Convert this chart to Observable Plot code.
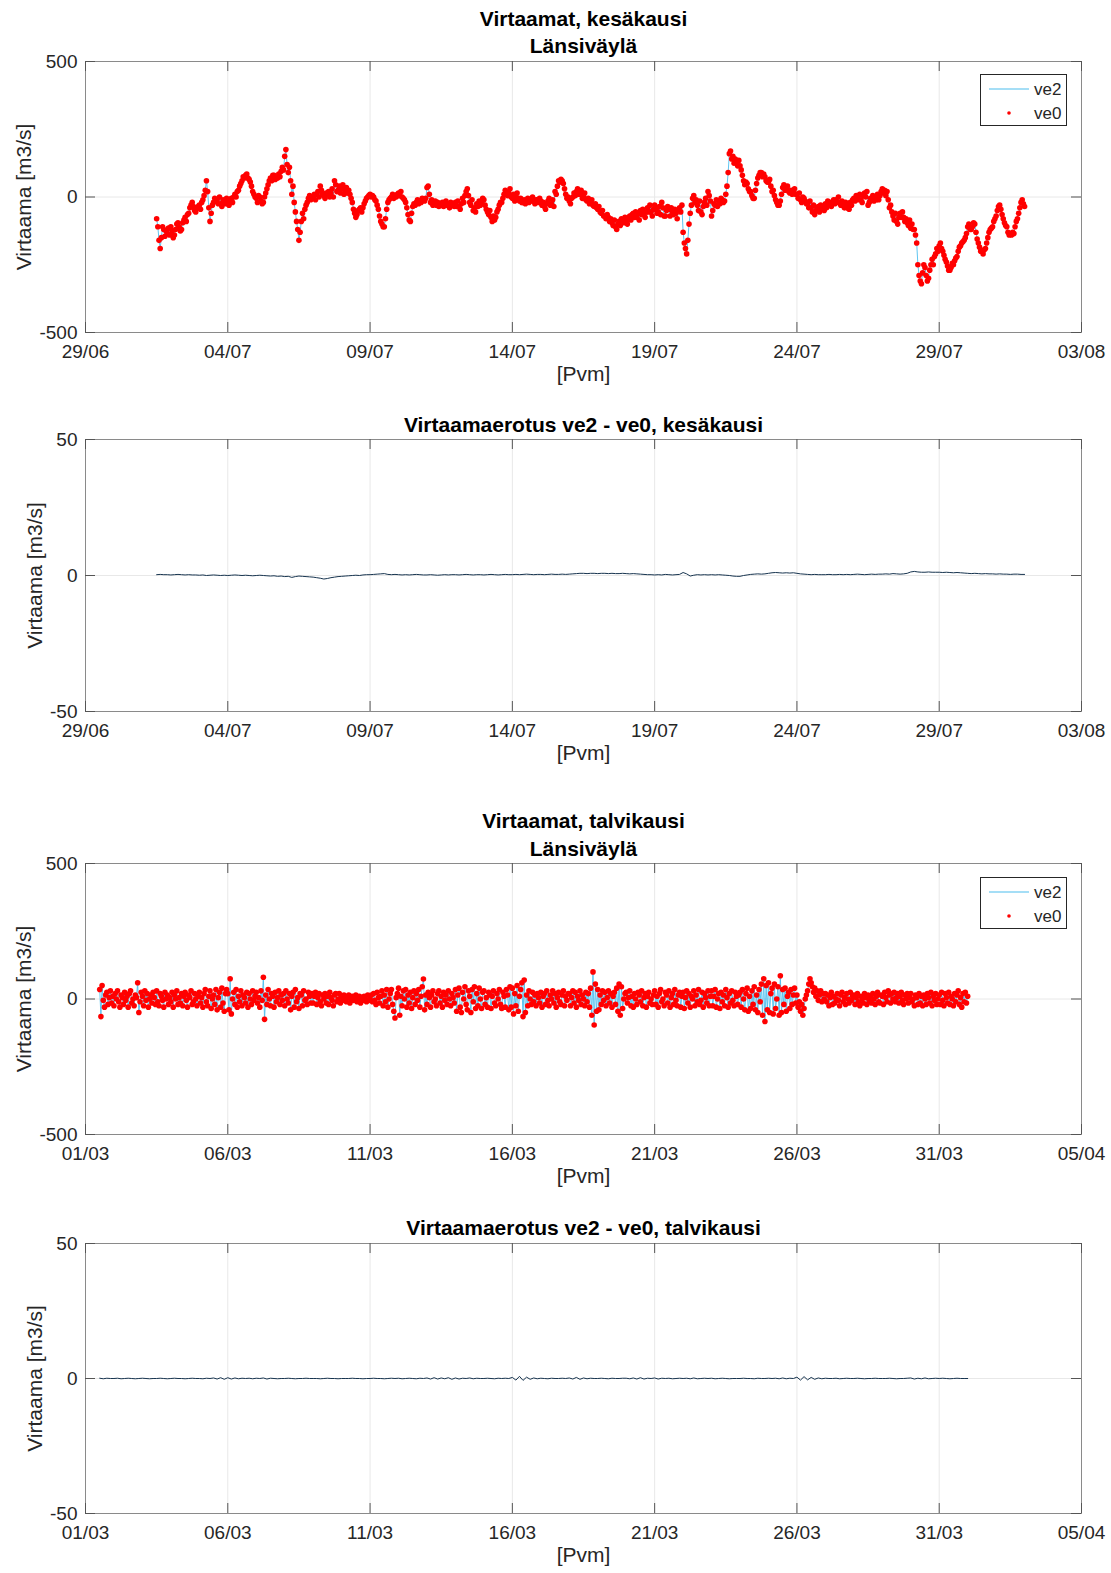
<!DOCTYPE html>
<html>
<head>
<meta charset="utf-8">
<script src="https://cdn.jsdelivr.net/npm/d3@7"></script>
<script src="https://cdn.jsdelivr.net/npm/@observablehq/plot@0.6"></script>
<style>
  body { margin: 0; background: #fff; }
  #page { position: relative; width: 1111px; height: 1573px; font-family: "Liberation Sans", Arial, Helvetica, sans-serif; }
  .panel { position: absolute; left: 0; }
  .legend { position: absolute; left: 980px; width: 85px; height: 50px; border: 1px solid #262626; background: #fff; }
  .legend svg { display: block; }
</style>
</head>
<body>
<div id="page"></div>
<script>
// ---- Axis ticks ----
const summerTicks = ["2019-06-29", "2019-07-04", "2019-07-09", "2019-07-14", "2019-07-19", "2019-07-24", "2019-07-29", "2019-08-03"];
const winterTicks = ["2019-03-01", "2019-03-06", "2019-03-11", "2019-03-16", "2019-03-21", "2019-03-26", "2019-03-31", "2019-04-05"];
const flowTicks = [-500, 0, 500];
const diffTicks = [-50, 0, 50];

// ---- Sampling: flows hourly, differences every 3 hours ----
const summerStart = "2019-07-01T12:00:00Z";
const winterStart = "2019-03-01T12:00:00Z";
const flowStepHours = 1;
const diffStepHours = 3;

// ---- Summer: ve0 flow [m3/s], hourly, one row per day ----
const summerVe0 = [
  -80, -110, -160, -190, -150, -110, -120, -145, -125, -135, -115, -140,
  -110, -125, -150, -140, -120, -100, -95, -110, -125, -120, -95, -85, -75, -90, -65, -60, -40, -30, -20, -35, -50, -55, -40, -35,
  -30, -45, -20, -10, 5, 25, 60, 20, -40, -90, -60, -30, -20, -5, -15, -10, -25, 0, -25, -35, -10, -15, -25, -5,
  -20, -30, -10, -5, -20, 0, 10, 0, 20, 25, 40, 50, 60, 75, 70, 80, 85, 70, 65, 55, 40, 20, 10, 0,
  -5, -20, 5, 0, -15, -25, -20, 0, 15, 30, 45, 60, 70, 60, 80, 80, 65, 70, 70, 85, 75, 95, 110, 100,
  150, 175, 120, 90, 110, 60, 10, 40, -20, -55, -90, -120, -160, -130, -90, -60, -80, -45, -30, -20, -5, 5, -10, 0,
  -5, 10, -10, 10, 20, 0, 40, 25, 10, 5, -5, 15, 10, 20, 0, 15, 30, 0, 60, 45, 20, 25, 40, 15,
  30, 45, 10, 20, 35, 15, 25, 10, -5, -20, -45, -60, -75, -65, -50, -45, -40, -55, -40, -25, -15, -5, 0, 5,
  10, 0, 5, 0, -10, -15, -30, -45, -70, -90, -100, -110, -110, -80, -45, -20, -10, -5, 0, 10, -5, 5, 0, 10,
  15, 5, 20, 0, -5, -10, -20, -40, -65, -85, -90, -60, -35, -25, -30, -20, -10, -25, -15, -20, -5, -10, -15, -5,
  35, 40, 10, -20, -10, -30, -25, -15, -30, -20, -35, -25, -30, -20, -35, -25, -15, -30, -30, -40, -20, -30, -25, -35,
  -20, -35, -15, -35, -45, -25, -5, -20, 5, 20, 30, 5, -20, -30, -10, -50, -40, -55, -25, -35, -15, -30, -20, -5,
  -10, -30, -45, -55, -65, -50, -75, -90, -70, -85, -75, -55, -45, -30, -20, -20, -5, 10, 25, 15, 5, 15, 30, 0,
  -5, 10, -15, 0, 15, -5, -15, -5, -20, -20, -10, -25, -15, -5, -20, -10, -15, 0, -15, -25, -10, -10, -20, -5,
  -15, -30, -20, -35, -45, -25, -15, -5, -30, -25, -10, -35, 20, 10, 40, 60, 55, 65, 60, 50, 30, 10, -5, 0,
  -15, -25, -5, 0, 15, 5, 20, 30, 10, 10, 25, -5, 5, 15, -10, -15, -5, -25, -20, -10, -30, -35, -25, -40,
  -45, -35, -55, -60, -50, -70, -70, -80, -65, -75, -90, -80, -95, -105, -85, -110, -120, -100, -90, -105, -80, -85, -95, -75,
  -90, -100, -80, -70, -85, -65, -60, -75, -55, -75, -60, -85, -50, -65, -45, -65, -75, -55, -40, -55, -30, -55, -70, -45,
  -30, -45, -60, -55, -35, -65, -20, -40, -70, -70, -50, -35, -45, -70, -40, -55, -65, -45, -60, -80, -50, -40, -55, -30,
  -130, -170, -190, -210, -160, -100, -60, -30, -5, 5, -20, -10, -30, -50, -15, -55, -65, -35, -20, -5, -30, 20, 5, -15,
  -70, -50, -25, -30, -10, -35, -15, -25, -5, -10, -20, -15, 10, 40, 90, 160, 170, 140, 150, 125, 140, 130, 115, 135,
  115, 100, 80, 60, 45, 55, 50, 30, 20, 20, 5, -5, -5, 25, 50, 70, 80, 90, 90, 75, 85, 75, 60, 55,
  55, 65, 40, 20, 25, 5, -10, -20, -30, -30, -15, 10, 35, 45, 25, 35, 40, 20, 15, 25, 10, 20, 30, 10,
  10, -5, 15, -10, -20, 0, -5, -15, -25, -25, -40, -15, -40, -55, -30, -65, -50, -40, -35, -55, -30, -45, -35, -50,
  -25, -40, -15, -30, -20, -35, -20, -10, -25, -10, -20, 0, -20, -30, -15, -30, -40, -20, -40, -30, -45, -20, -30, -10,
  -5, -15, 5, 0, -10, 10, -10, -20, 5, 15, 0, 20, -30, -20, -5, -5, 5, -15, 0, -10, 10, -10, 5, 20,
  30, 15, 25, 5, 20, -10, -40, -30, -55, -70, -85, -60, -90, -100, -75, -60, -75, -55, -75, -90, -80, -95, -105, -85,
  -115, -100, -120, -120, -140, -170, -250, -290, -310, -320, -280, -250, -260, -290, -310, -300, -270, -250, -230, -250, -220, -210, -190, -200,
  -180, -170, -190, -200, -215, -230, -240, -255, -270, -270, -260, -245, -250, -235, -225, -220, -200, -185, -180, -170, -165, -160, -150, -135,
  -110, -100, -120, -120, -110, -95, -100, -130, -155, -170, -185, -200, -200, -210, -195, -190, -170, -150, -130, -120, -115, -110, -90, -80,
  -70, -50, -35, -30, -45, -65, -80, -95, -105, -110, -130, -140, -135, -140, -130, -135, -110, -90, -80, -60, -40, -20, -10, -25,
  -35
];

// ---- Summer: difference ve2 - ve0 [m3/s], every 3 hours ----
const summerDiff = [
  0.3, 0.4, 0.3, 0.3,
  0.2, 0.3, 0.4, 0.3, 0.2, 0.3, 0.2, 0.2,
  0.1, 0.2, 0.0, 0.1, 0.2, 0.1, 0.0, 0.1,
  0.0, 0.1, 0.2, 0.1, 0.0, 0.1, 0.0, -0.1,
  0.0, 0.1, 0.0, -0.1, -0.2, -0.1, -0.3, -0.2,
  -0.4, -0.3, -0.7, -0.4, -0.2, -0.3, -0.4, -0.5,
  -0.6, -0.8, -1.0, -1.3, -1.1, -0.8, -0.6, -0.4,
  -0.3, -0.2, -0.1, 0.0, 0.1, 0.0, 0.2, 0.3,
  0.3, 0.4, 0.5, 0.6, 0.7, 0.4, 0.3, 0.4,
  0.3, 0.2, 0.3, 0.2, 0.3, 0.4, 0.3, 0.2,
  0.2, 0.3, 0.2, 0.1, 0.2, 0.3, 0.2, 0.3,
  0.3, 0.2, 0.3, 0.4, 0.3, 0.2, 0.3, 0.3,
  0.2, 0.3, 0.4, 0.3, 0.2, 0.3, 0.4, 0.3,
  0.3, 0.4, 0.3, 0.4, 0.5, 0.4, 0.3, 0.4,
  0.4, 0.3, 0.4, 0.5, 0.4, 0.4, 0.5, 0.4,
  0.5, 0.6, 0.7, 0.8, 0.8, 0.7, 0.8, 0.8,
  0.7, 0.8, 0.8, 0.7, 0.8, 0.7, 0.7, 0.8,
  0.7, 0.6, 0.7, 0.6, 0.5, 0.4, 0.3, 0.3,
  0.2, 0.3, 0.2, 0.4, 0.3, 0.2, 0.3, 0.4,
  1.1, 0.6, -0.2, 0.1, 0.3, 0.2, 0.3, 0.2,
  0.3, 0.2, 0.3, 0.2, 0.1, 0.0, -0.2, -0.3,
  -0.3, 0.0, 0.2, 0.4, 0.5, 0.6, 0.5, 0.6,
  0.8, 1.0, 1.1, 1.0, 0.9, 1.0, 0.9, 1.0,
  0.8, 0.6, 0.5, 0.4, 0.3, 0.4, 0.3, 0.3,
  0.3, 0.4, 0.3, 0.3, 0.4, 0.3, 0.4, 0.3,
  0.4, 0.5, 0.4, 0.3, 0.4, 0.5, 0.4, 0.5,
  0.5, 0.6, 0.5, 0.7, 0.6, 0.5, 0.6, 0.8,
  1.3, 1.5, 1.3, 1.2, 1.2, 1.3, 1.2, 1.2,
  1.2, 1.1, 1.2, 1.1, 1.0, 1.1, 1.0, 0.9,
  0.8, 0.7, 0.8, 0.7, 0.6, 0.7, 0.6, 0.6,
  0.5, 0.6, 0.5, 0.5, 0.4, 0.5, 0.5, 0.4,
  0.4
];

// ---- Winter: ve0 flow [m3/s], hourly, one row per day ----
const winterVe0 = [
  35, -65, 50, -5, -30, 15, 25, -20, 5, 30, -15, 10,
  -25, 20, 0, 30, -10, -30, 15, 5, -20, 25, -5, 10, -30, 20, 30, -15, 0, -25, 15, 5, 60, -50, -10, 25,
  10, -25, 30, -5, 20, -30, 0, 15, -15, 25, 5, -20, 30, -10, -25, 20, 10, -5, -30, 25, 0, 15, -20, 5,
  -10, 25, -30, 15, 0, 30, -20, 5, -15, 20, -25, 10, 25, -5, -30, 15, 5, 30, -20, -10, 20, 0, -25, 10,
  25, -15, 5, -30, 20, 35, -10, -25, 10, 30, -35, 0, 15, -20, 35, -40, 5, 25, -30, 40, -15, -45, 20, 35,
  20, -40, 75, -55, 0, 25, -20, 35, -30, 10, -10, 30, -25, 15, 5, -15, 25, -30, 20, 0, -20, 30, -5, 10,
  25, -15, 5, -30, 30, -5, 80, -75, 15, -20, 35, 0, -25, 20, 10, -30, 25, -10, 5, 30, -20, 15, -5, 20,
  -25, 30, 0, -15, 20, -40, 10, 25, -30, 35, -10, 5, -35, 20, 15, -25, 30, -5, 0, -20, 25, 10, -15, 20,
  -15, 10, 25, -20, 5, 20, -10, -25, 15, 0, 20, -15, 10, -20, 25, 5, -5, -25, 15, 20, -10, 0, 20, -15,
  10, -5, 15, 0, -10, 5, 15, -15, 0, 10, -5, 5, 15, -10, 0, 10, -15, 5, -5, 10, 0, -10, 15, -5,
  0, 15, -10, 20, -5, -20, 25, 5, -15, 10, 30, -25, 15, -10, 35, -30, 0, 20, 35, -20, -45, -70, 5, 20,
  40, -60, 10, -25, 30, 0, 35, -30, 15, -15, 25, -35, 5, 30, -20, 20, -5, 35, -30, 10, 45, 74, -40, 15,
  -20, 25, 5, -30, 15, 30, -10, 0, -25, 20, 30, -15, 10, -30, 25, -5, 15, -20, 30, 0, -25, 20, 5, -15,
  35, -45, 15, 40, -30, -50, 25, 0, 45, -20, -40, 30, 10, -50, 35, -10, 45, -35, 20, -25, 40, 0, -35, 25,
  30, -20, 5, -30, 25, 15, -35, 10, 30, -15, -25, 20, 0, 35, -20, -35, 25, 10, -30, 35, 15, -40, 45, -30,
  40, -55, 20, -25, 50, -45, 10, 35, 60, -65, 70, -50, 15, -25, 30, 0, -20, 25, -10, 15, -25, 20, 5, -15,
  25, -30, 10, 20, -20, 30, -5, -25, 15, 0, 30, -15, 20, -30, 5, 25, -10, -20, 15, 30, -25, 10, -5, 20,
  20, -25, 5, 30, -15, 25, -30, 10, -5, 30, -20, 15, 0, -25, 25, -10, 20, -30, 40, -60, 100, -96, 55, -45,
  35, -40, 15, -20, 30, -5, 25, -25, 5, 30, -15, 20, -30, 10, 25, -20, 40, -45, 55, -60, 45, -35, 0, 20,
  25, -15, 5, 30, -25, 10, -30, 20, 0, -20, 25, 15, -10, 30, -25, 5, 20, -30, 10, 25, -15, 0, -20, 15,
  30, -20, 10, -30, 20, 35, -10, 0, -25, 25, 15, -15, 30, -30, 5, 20, -20, 35, -5, -25, 15, 25, -30, 10,
  25, -35, 5, 30, -15, 20, -30, 10, 0, 30, -25, 15, -10, 35, -20, -5, 25, -30, 20, 5, -15, 30, -25, 10,
  30, -25, 10, 35, -30, 0, 20, -35, 25, -10, 15, -25, 35, 5, -30, 20, -15, 30, -5, -25, 25, 10, -20, 15,
  25, -30, 35, 0, -40, 20, 40, -45, 10, -35, 30, -20, 45, -40, 15, -50, 35, -10, 55, -60, 75, -83, 50, -40,
  60, -50, 20, 40, -55, 55, -35, 0, 45, -60, 86, -50, 35, -20, 40, -45, 10, 25, -35, 35, -20, 15, 40, -15,
  15, -30, -10, -45, -20, -60, -35, 0, 15, 30, 55, 75, 60, 45, 25, 40, 10, 30, -5, 15, 30, -10, 20, 0,
  20, -10, 15, -25, 5, 25, -20, 10, -15, 0, 20, -5, -25, 15, 25, -10, 5, -20, 20, 0, -15, 25, -5, 10,
  15, -20, 5, 20, -10, -25, 10, 0, -15, 20, 5, -20, 15, -5, 10, -15, 20, 0, -20, 10, 25, -10, -15, 15,
  10, -20, 25, 5, -10, 30, 15, -15, 20, 0, 25, -10, 5, 20, -15, 10, 25, -5, -20, 15, 0, 20, -15, 5,
  20, -10, 0, -25, 15, 5, -20, 20, -15, 10, -25, 15, 0, -20, 20, 5, -15, 25, -25, 10, -5, 20, -20, 0,
  15, -20, 25, -5, -25, 20, 5, -15, 25, -20, 10, 0, -25, 20, -10, 15, 30, -20, 5, -30, 20, -10, 25, -15,
  10
];

// ---- Winter: difference ve2 - ve0 [m3/s], every 3 hours ----
const winterDiff = [
  0.1, -0.1, 0.1, 0.0,
  0.0, 0.1, -0.1, 0.0, 0.1, 0.0, -0.1, 0.0,
  0.1, 0.0, -0.1, 0.0, 0.0, 0.1, 0.0, -0.1,
  0.0, 0.1, 0.0, 0.0, -0.1, 0.0, 0.1, 0.0,
  0.0, -0.1, 0.1, 0.0, 0.2, -0.2, 0.3, -0.3,
  0.3, -0.2, 0.2, -0.1, 0.1, 0.0, 0.1, -0.1,
  0.1, 0.0, 0.2, -0.2, 0.1, 0.0, -0.1, 0.0,
  0.0, 0.1, 0.0, -0.1, 0.0, 0.0, 0.1, 0.0,
  0.0, 0.0, -0.1, 0.0, 0.1, 0.0, 0.0, -0.1,
  0.0, 0.0, 0.0, 0.1, 0.0, 0.0, -0.1, 0.0,
  0.0, 0.1, 0.0, 0.0, -0.1, 0.0, 0.1, 0.0,
  0.1, -0.1, 0.0, 0.1, 0.0, -0.1, 0.1, 0.0,
  0.2, -0.2, 0.3, -0.2, 0.2, -0.1, 0.3, -0.3,
  0.2, -0.2, 0.1, 0.0, 0.2, -0.1, 0.1, 0.0,
  0.0, 0.1, 0.0, -0.1, 0.1, 0.0, 0.1, 0.0,
  0.4, -0.6, 0.8, -0.7, 0.5, -0.3, 0.2, -0.1,
  0.1, 0.0, -0.1, 0.1, 0.0, 0.0, 0.1, 0.0,
  0.2, -0.2, 0.4, -0.3, 0.2, -0.1, 0.1, 0.0,
  0.0, 0.1, 0.0, -0.1, 0.1, 0.0, 0.0, 0.1,
  0.1, -0.1, 0.2, -0.2, 0.3, -0.2, 0.1, 0.0,
  0.2, -0.2, 0.1, 0.0, 0.1, -0.1, 0.0, 0.1,
  0.0, 0.1, -0.1, 0.2, -0.1, 0.0, 0.1, 0.0,
  0.1, -0.1, 0.0, 0.1, 0.0, -0.1, 0.0, 0.0,
  0.0, 0.1, 0.0, 0.0, -0.1, 0.1, 0.0, 0.0,
  0.1, 0.0, 0.1, -0.1, 0.2, -0.1, 0.1, 0.0,
  0.5, -0.6, 0.7, -0.5, 0.4, -0.3, 0.2, -0.1,
  0.1, 0.0, 0.0, 0.1, -0.1, 0.0, 0.1, 0.0,
  0.0, 0.1, 0.0, -0.1, 0.0, 0.0, 0.1, 0.0,
  0.0, 0.0, 0.1, 0.0, -0.1, 0.0, 0.0, 0.1,
  0.2, -0.2, 0.1, -0.1, 0.2, -0.1, 0.0, 0.1,
  0.0, 0.1, 0.0, -0.1, 0.0, 0.1, 0.0, 0.0,
  0.0
];

// ---- Tables ----
// ve2 = ve0 + (ve2 - ve0), using the 3-hour difference block that holds each hour
function buildFlow(start, ve0, diff) {
  const t0 = new Date(start);
  const per = diffStepHours / flowStepHours;
  return ve0.map((v, k) => {
    const d = diff[Math.min(diff.length - 1, Math.floor(k / per))];
    return {time: d3.utcHour.offset(t0, k * flowStepHours), ve0: v, ve2: v + d};
  });
}
function buildDiff(start, diff) {
  const t0 = new Date(start);
  return diff.map((d, i) => ({time: d3.utcHour.offset(t0, i * diffStepHours), diff: d}));
}
const summerFlow = buildFlow(summerStart, summerVe0, summerDiff);
const winterFlow = buildFlow(winterStart, winterVe0, winterDiff);
const summerDelta = buildDiff(summerStart, summerDiff);
const winterDelta = buildDiff(winterStart, winterDiff);

// ---- Layout constants ----
const W = 1111, ML = 85, MR = 30, MB = 60;
const FONT = '"Liberation Sans", Arial, Helvetica, sans-serif';
const page = document.getElementById("page");

function panel({top, height, marginTop, rows, ticks, yTicks, titles, ylabelDx, kind}) {
  const xt = ticks.map(d => new Date(d + "T00:00:00Z"));
  const frameH = height - marginTop - MB;
  const frameW = W - ML - MR;
  const tickColor = "#555555";

  const dataMarks = kind === "flow"
    ? [
        Plot.line(rows, {x: "time", y: "ve2", stroke: "#4dbeee", strokeWidth: 0.9}),
        Plot.dot(rows, {x: "time", y: "ve0", r: 2.8, fill: "#ff0000"})
      ]
    : [
        Plot.line(rows, {x: "time", y: "diff", stroke: "#17344f", strokeWidth: 1})
      ];

  const titleMarks = titles.map(([txt, dy]) =>
    Plot.text([txt], {text: d => d, frameAnchor: "top", dy, lineAnchor: "bottom",
                      fontWeight: "bold", fontSize: 21, fill: "#000000"}));

  const svg = Plot.plot({
    width: W,
    height,
    marginTop,
    marginLeft: ML,
    marginRight: MR,
    marginBottom: MB,
    x: {type: "utc", domain: [xt[0], xt[xt.length - 1]], label: null},
    y: {domain: [yTicks[0], yTicks[yTicks.length - 1]], label: null},
    style: {fontFamily: FONT, fontSize: "19px", color: "#262626", background: "transparent", overflow: "visible"},
    marks: [
      // grid
      Plot.ruleX(xt, {stroke: "#e8e8e8", strokeWidth: 1}),
      Plot.ruleY(yTicks, {stroke: "#e8e8e8", strokeWidth: 1}),
      ...dataMarks,
      // box
      Plot.frame({stroke: "#8a8a8a", strokeWidth: 1}),
      // inward ticks on all four sides
      Plot.ruleX(xt, {insetTop: frameH - 10, stroke: tickColor}),
      Plot.ruleX(xt, {insetBottom: frameH - 10, stroke: tickColor}),
      Plot.ruleY(yTicks, {insetRight: frameW - 10, stroke: tickColor}),
      Plot.ruleY(yTicks, {insetLeft: frameW - 10, stroke: tickColor}),
      // tick labels
      Plot.axisX(xt, {tickSize: 0, tickPadding: 11.5, tickFormat: d3.utcFormat("%d/%m"), label: null}),
      Plot.axisY(yTicks, {tickSize: 0, tickPadding: 8, tickFormat: d => String(d), label: null}),
      // titles and axis labels
      ...titleMarks,
      Plot.text(["Virtaama [m3/s]"], {text: d => d, frameAnchor: "left", textAnchor: "middle", rotate: -90,
                                      dx: ylabelDx, fontSize: 21, fill: "#262626"}),
      Plot.text(["[Pvm]"], {text: d => d, frameAnchor: "bottom", dy: 48, fontSize: 21, fill: "#262626"})
    ]
  });
  svg.classList.add("panel");
  svg.style.top = top + "px";
  page.appendChild(svg);
}

function legend(top) {
  const box = document.createElement("div");
  box.className = "legend";
  box.style.top = top + "px";
  const s = d3.create("svg").attr("width", 85).attr("height", 50)
    .style("font-family", FONT).style("font-size", "17px");
  s.append("line").attr("x1", 8).attr("x2", 48).attr("y1", 14).attr("y2", 14)
    .attr("stroke", "#4dbeee").attr("stroke-width", 1.2);
  s.append("text").attr("x", 53).attr("y", 20).attr("fill", "#262626").text("ve2");
  s.append("circle").attr("cx", 28).attr("cy", 38).attr("r", 1.8).attr("fill", "#ff0000");
  s.append("text").attr("x", 53).attr("y", 44).attr("fill", "#262626").text("ve0");
  box.appendChild(s.node());
  page.appendChild(box);
}

panel({top: 0, height: 392, marginTop: 61, rows: summerFlow, ticks: summerTicks, yTicks: flowTicks,
       titles: [["Virtaamat, kesäkausi", -36], ["Länsiväylä", -8.5]], ylabelDx: -61, kind: "flow"});
panel({top: 392, height: 379, marginTop: 47, rows: summerDelta, ticks: summerTicks, yTicks: diffTicks,
       titles: [["Virtaamaerotus ve2 - ve0, kesäkausi", -8]], ylabelDx: -50, kind: "diff"});
panel({top: 771, height: 423, marginTop: 92, rows: winterFlow, ticks: winterTicks, yTicks: flowTicks,
       titles: [["Virtaamat, talvikausi", -35.5], ["Länsiväylä", -8]], ylabelDx: -61, kind: "flow"});
panel({top: 1194, height: 379, marginTop: 49, rows: winterDelta, ticks: winterTicks, yTicks: diffTicks,
       titles: [["Virtaamaerotus ve2 - ve0, talvikausi", -8.5]], ylabelDx: -50, kind: "diff"});

legend(74);
legend(877);
</script>
</body>
</html>
